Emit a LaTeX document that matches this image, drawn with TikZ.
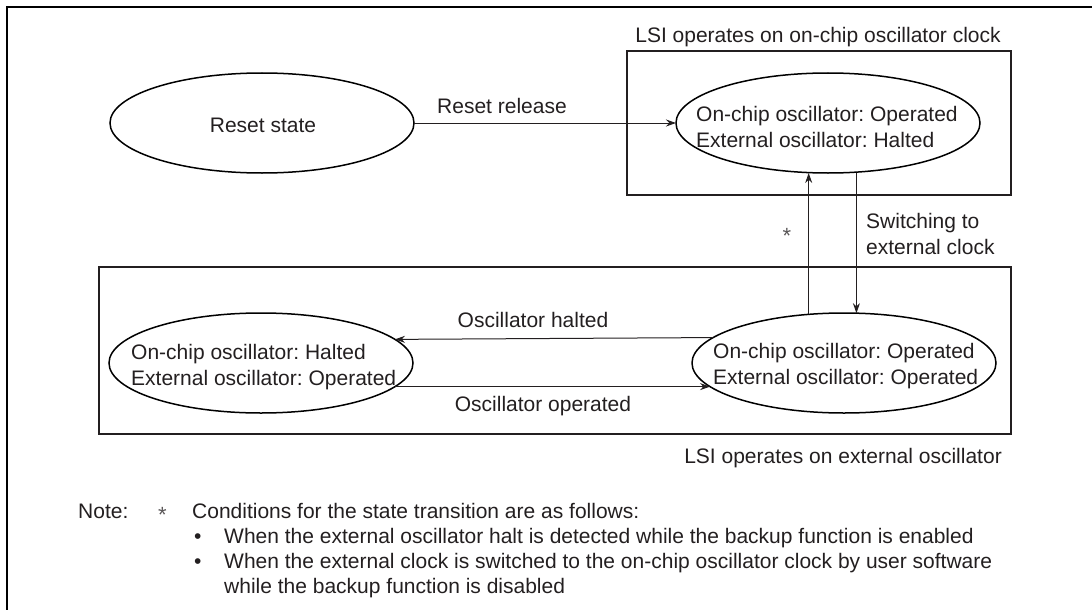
\documentclass[tikz,border=0pt]{standalone}
\usepackage{fontspec}
\setmainfont{Liberation Sans}
\usetikzlibrary{shapes.geometric,arrows.meta,calc}
\definecolor{ink}{HTML}{231F20}
\frenchspacing
\begin{document}
\begin{tikzpicture}[x=1pt,y=-1pt,
  font=\fontsize{21}{26}\selectfont\frenchspacing, text=ink,
  stateell/.style={ellipse, draw=black, line width=1.5pt, minimum width=304pt, minimum height=100pt, inner sep=0pt, outer sep=0pt},
  regionbox/.style={draw=ink, line width=1.1pt},
  conn/.style={draw=ink, line width=1pt, -{Stealth[length=10pt,width=7pt]}},
  lbl/.style={inner sep=0pt},
  stxt/.style={align=left, anchor=west, inner sep=0pt},
  star/.style={inner sep=0pt, font=\fontsize{22}{22}\selectfont, text=ink!75}]
\useasboundingbox (0,0) rectangle (1092,610);
% outer frame (top and left only)
\draw[line width=2.4pt, black] (7,610) -- (7,7) -- (1092,7);
% region boxes
\draw[regionbox] (627,51) rectangle (1011,195);
\draw[regionbox] (99,267) rectangle (1011,434);
\node[lbl, anchor=base] (toptitle) at (818,43) {LSI operates on on-chip oscillator clock};
\node[lbl, anchor=base east] (bottitle) at (1002,463) {LSI operates on external oscillator};
% states
\node[stateell] (rs) at (262,123) {};
\node[lbl] (rstxt) at (263,125) {Reset state};
\node[stateell] (onc) at (828,123) {};
\node[stxt] (onctxt) at (696,126.5) {On-chip oscillator: Operated\\External oscillator: Halted};
\node[stateell] (ext) at (261,363) {};
\node[stxt] (exttxt) at (131,367) {On-chip oscillator: Halted\\External oscillator: Operated};
\node[stateell] (both) at (844,363) {};
\node[stxt] (bothtxt) at (713,366.5) {On-chip oscillator: Operated\\External oscillator: Operated};
% connectors
\draw[conn] (rs.east) -- (onc.west);
\node[lbl, anchor=base] (rrl) at (502,113) {Reset release};
\draw[conn] (both.126.5) -- (both.126.5 |- onc.south);
\node[star, anchor=base] (st1) at (787,243) {*};
\draw[conn] (both.76.45 |- onc.south) -- (both.76.45);
\node[lbl, align=left, anchor=north west] (swl) at (866,213) {Switching to\\external clock};
\draw[conn] (both.169.8) -- (ext.10.2);
\node[lbl, anchor=base] (ohl) at (533,327) {Oscillator halted};
\draw[conn] (ext.-10.2) -- (both.190.2);
\node[lbl, anchor=base] (ool) at (543,411) {Oscillator operated};
% note
\node[lbl, anchor=base west] (note) at (78,518) {Note:};
\node[star, anchor=base west] (st2) at (158,522) {*};
\node[lbl, anchor=base west] (cond) at (192,518) {Conditions for the state transition are as follows:};
\node[lbl, anchor=base west] (b1) at (194,543) {\textbullet};
\node[lbl, anchor=base west] (t1) at (224,543) {When the external oscillator halt is detected while the backup function is enabled};
\node[lbl, anchor=base west] (b2) at (194,568) {\textbullet};
\node[lbl, anchor=base west] (t2) at (224,568) {When the external clock is switched to the on-chip oscillator clock by user software};
\node[lbl, anchor=base west] (t3) at (224,593) {while the backup function is disabled};
\end{tikzpicture}
\end{document}
